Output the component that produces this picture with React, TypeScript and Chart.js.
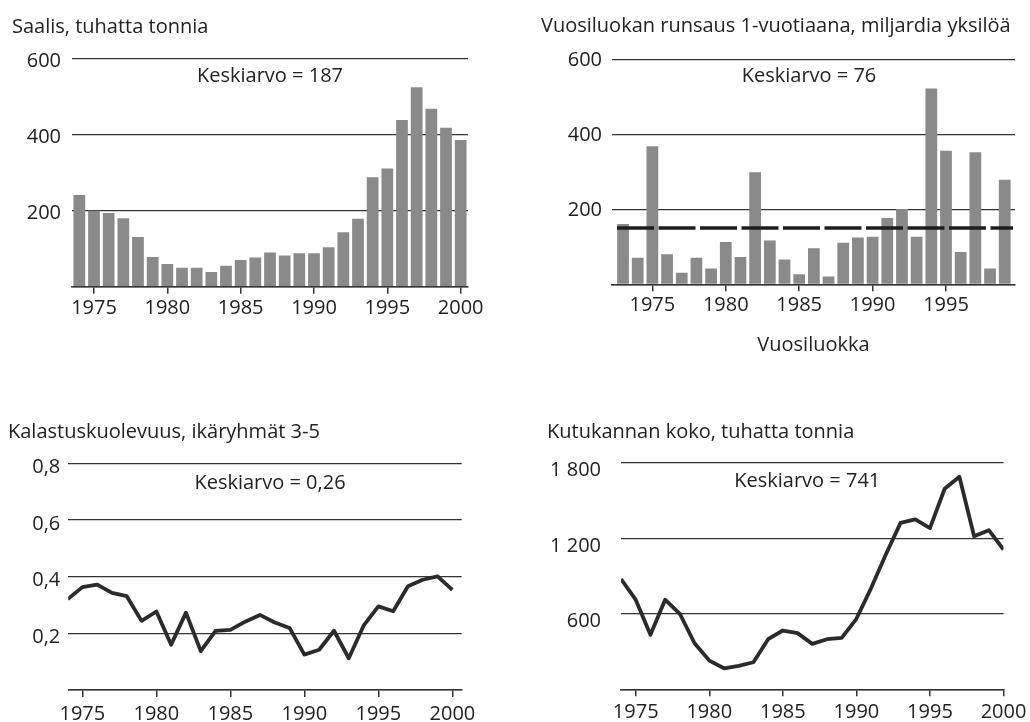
import React, { useEffect, useRef } from 'react';
import { Chart, registerables } from 'chart.js';

Chart.register(...registerables);

const FONT = "'Open Sans', 'Noto Sans', sans-serif";
const TEXT = '#222222';
const LINE = '#333333';
const BAR = '#8a8a8a';

// ---- Data ----
const catchYears = [1974, 1975, 1976, 1977, 1978, 1979, 1980, 1981, 1982, 1983, 1984, 1985, 1986, 1987, 1988, 1989, 1990, 1991, 1992, 1993, 1994, 1995, 1996, 1997, 1998, 1999, 2000];
const catchValues = [241, 200, 194, 180, 131, 78, 60, 50, 50, 39, 55, 70, 77, 90, 82, 88, 88, 104, 143, 179, 288, 311, 439, 525, 468, 418, 386];
const catchMean = 187;

const yearClassYears = [1973, 1974, 1975, 1976, 1977, 1978, 1979, 1980, 1981, 1982, 1983, 1984, 1985, 1986, 1987, 1988, 1989, 1990, 1991, 1992, 1993, 1994, 1995, 1996, 1997, 1998, 1999];
const yearClassValues = [161, 71, 368, 80, 31, 71, 42, 113, 73, 299, 117, 66, 27, 96, 21, 111, 125, 127, 177, 201, 127, 522, 356, 86, 352, 42, 279];
const yearClassMean = 76;
const yearClassReference = 150;

const mortalityYears = [1974, 1975, 1976, 1977, 1978, 1979, 1980, 1981, 1982, 1983, 1984, 1985, 1986, 1987, 1988, 1989, 1990, 1991, 1992, 1993, 1994, 1995, 1996, 1997, 1998, 1999, 2000];
const mortalityValues = [0.32, 0.363, 0.372, 0.343, 0.331, 0.244, 0.277, 0.16, 0.273, 0.137, 0.209, 0.212, 0.241, 0.265, 0.238, 0.219, 0.125, 0.142, 0.209, 0.112, 0.227, 0.295, 0.278, 0.366, 0.389, 0.401, 0.353];
const mortalityMean = 0.26;

const spawningYears = [1974, 1975, 1976, 1977, 1978, 1979, 1980, 1981, 1982, 1983, 1984, 1985, 1986, 1987, 1988, 1989, 1990, 1991, 1992, 1993, 1994, 1995, 1996, 1997, 1998, 1999, 2000];
const spawningValues = [876, 712, 433, 712, 600, 366, 228, 167, 186, 215, 398, 467, 446, 361, 398, 409, 560, 804, 1070, 1322, 1349, 1280, 1593, 1689, 1216, 1264, 1110];
const spawningMean = 741;

// ---- Tick values ----
const xTicksTo2000 = [1975, 1980, 1985, 1990, 1995, 2000];
const xTicksTo1995 = [1975, 1980, 1985, 1990, 1995];
const catchYTicks = [0, 200, 400, 600];
const yearClassYTicks = [0, 200, 400, 600];
const mortalityYTicks = [0, 0.2, 0.4, 0.6, 0.8];
const spawningYTicks = [0, 600, 1200, 1800];

// Finnish number formatting: comma decimals, space thousands
function fi(v: number, decimals = 0): string {
  const s = v.toFixed(decimals);
  const [intPart, frac] = s.split('.');
  const intS = intPart.replace(/\B(?=(\d{3})+(?!\d))/g, ' ');
  return frac ? `${intS},${frac}` : intS;
}

const panelTextPlugin = {
  id: 'panelText',
  afterDraw(chart: any, _args: any, opts: any) {
    const { ctx, chartArea } = chart;
    ctx.save();
    ctx.fillStyle = TEXT;
    ctx.font = `20px ${FONT}`;
    ctx.textBaseline = 'alphabetic';
    ctx.textAlign = 'left';
    ctx.fillText(opts.title, opts.titleX, opts.titleY);
    ctx.textAlign = 'center';
    ctx.fillText(opts.mean, (chartArea.left + chartArea.right) / 2 + opts.meanDx, chartArea.top + opts.meanDy);
    ctx.restore();
  },
};

const refLinePlugin = {
  id: 'refLine',
  afterDatasetsDraw(chart: any, _args: any, opts: any) {
    if (opts.value == null) return;
    const { ctx, chartArea } = chart;
    const y = chart.scales.y.getPixelForValue(opts.value);
    ctx.save();
    ctx.strokeStyle = '#1e1e1e';
    ctx.lineWidth = 3.5;
    ctx.setLineDash([37, 4.5]);
    ctx.beginPath();
    ctx.moveTo(chartArea.left + 5, y);
    ctx.lineTo(chartArea.right - 2, y);
    ctx.stroke();
    ctx.restore();
  },
};

type Panel = {
  type: 'bar' | 'line';
  years: number[];
  values: number[];
  padding: { left: number; right: number; top: number; bottom: number };
  yw: number;
  xh: number;
  xMin: number;
  xMax: number;
  xTicks: number[];
  xPad: number;
  xTitle?: string;
  yMax: number;
  yTicks: number[];
  yPad: number;
  yLabelOffset: number;
  yFormat: (v: number) => string;
  title: string;
  titleX: number;
  titleY: number;
  mean: string;
  meanDx: number;
  meanDy: number;
  refValue?: number;
};

function buildConfig(p: Panel): any {
  const dataset: any =
    p.type === 'bar'
      ? {
          data: p.years.map((x, i) => ({ x, y: p.values[i] })),
          backgroundColor: BAR,
          borderWidth: 0,
          barPercentage: 0.8,
          categoryPercentage: 1,
        }
      : {
          data: p.years.map((x, i) => ({ x, y: p.values[i] })),
          borderColor: '#2b2b2b',
          borderWidth: 3.8,
          pointRadius: 0,
          tension: 0,
          fill: false,
          borderJoinStyle: 'round',
        };
  const plugins: any[] = [panelTextPlugin];
  if (p.refValue != null) plugins.push(refLinePlugin);
  return {
    type: p.type,
    data: { datasets: [dataset] },
    plugins,
    options: {
      responsive: false,
      animation: false,
      events: [],
      layout: { padding: p.padding, autoPadding: false },
      plugins: {
        legend: { display: false },
        tooltip: { enabled: false },
        title: { display: false },
        panelText: {
          title: p.title,
          titleX: p.titleX,
          titleY: p.titleY,
          mean: p.mean,
          meanDx: p.meanDx,
          meanDy: p.meanDy,
        },
        refLine: { value: p.refValue },
      },
      scales: {
        x: {
          type: 'linear',
          min: p.xMin,
          max: p.xMax,
          offset: false,
          afterFit: (s: any) => {
            s.height = p.xh;
          },
          afterBuildTicks: (s: any) => {
            s.ticks = p.xTicks.map((v) => ({ value: v }));
          },
          grid: {
            display: true,
            offset: false,
            drawOnChartArea: false,
            drawTicks: true,
            tickLength: 7,
            color: LINE,
            lineWidth: 1.5,
          },
          border: { display: true, color: LINE, width: 1.5 },
          ticks: {
            padding: p.xPad,
            color: TEXT,
            font: { size: 20, family: FONT },
            maxRotation: 0,
            minRotation: 0,
            autoSkip: false,
            callback: (v: any) => String(v),
          },
          title: p.xTitle
            ? { display: true, text: p.xTitle, color: TEXT, font: { size: 20, family: FONT }, padding: 0 }
            : { display: false },
        },
        y: {
          type: 'linear',
          min: 0,
          max: p.yMax,
          afterFit: (s: any) => {
            s.width = p.yw;
          },
          afterBuildTicks: (s: any) => {
            s.ticks = p.yTicks.map((v) => ({ value: v }));
          },
          grid: { color: LINE, lineWidth: 1.2, drawTicks: false },
          border: { display: false },
          ticks: {
            padding: p.yPad,
            labelOffset: p.yLabelOffset,
            color: TEXT,
            font: { size: 20, family: FONT },
            callback: (v: any) => (Number(v) === 0 ? '' : p.yFormat(Number(v))),
          },
        },
      },
    },
  };
}

const panels: Panel[] = [
  {
    type: 'bar',
    years: catchYears,
    values: catchValues,
    padding: { left: 2, right: 562, top: 58.7, bottom: 375.3 },
    yw: 70,
    xh: 60,
    xMin: 1973.5,
    xMax: 2000.5,
    xTicks: xTicksTo2000,
    xPad: 2.4,
    yMax: 600,
    yTicks: catchYTicks,
    yPad: 11,
    yLabelOffset: 3,
    yFormat: (v) => fi(v),
    title: 'Saalis, tuhatta tonnia',
    titleX: 12,
    titleY: 32.5,
    mean: `Keskiarvo = ${fi(catchMean)}`,
    meanDx: 0,
    meanDy: 23,
  },
  {
    type: 'bar',
    years: yearClassYears,
    values: yearClassValues,
    padding: { left: 532, right: 15, top: 59.3, bottom: 365 },
    yw: 80,
    xh: 72.7,
    xMin: 1972.25,
    xMax: 1999.7,
    xTicks: xTicksTo1995,
    xPad: 1.9,
    xTitle: 'Vuosiluokka',
    yMax: 600,
    yTicks: yearClassYTicks,
    yPad: 10,
    yLabelOffset: 0.5,
    yFormat: (v) => fi(v),
    title: 'Vuosiluokan runsaus 1-vuotiaana, miljardia yksilöä',
    titleX: 541,
    titleY: 31.7,
    mean: `Keskiarvo = ${fi(yearClassMean)}`,
    meanDx: -4.5,
    meanDy: 23,
    refValue: yearClassReference,
  },
  {
    type: 'line',
    years: mortalityYears,
    values: mortalityValues,
    padding: { left: 0, right: 568.3, top: 463.3, bottom: 0 },
    yw: 68.3,
    xh: 32,
    xMin: 1974.05,
    xMax: 2000.63,
    xTicks: xTicksTo2000,
    xPad: 5.4,
    yMax: 0.8,
    yTicks: mortalityYTicks,
    yPad: 8,
    yLabelOffset: 4,
    yFormat: (v) => fi(v, 1),
    title: 'Kalastuskuolevuus, ikäryhmät 3-5',
    titleX: 8,
    titleY: 437.5,
    mean: `Keskiarvo = ${fi(mortalityMean, 2)}`,
    meanDx: 5,
    meanDy: 26,
  },
  {
    type: 'line',
    years: spawningYears,
    values: spawningValues,
    padding: { left: 521, right: 25, top: 462.7, bottom: 0.7 },
    yw: 100,
    xh: 32,
    xMin: 1974,
    xMax: 2000,
    xTicks: xTicksTo2000,
    xPad: 3.6,
    yMax: 1800,
    yTicks: spawningYTicks,
    yPad: 20,
    yLabelOffset: 8,
    yFormat: (v) => fi(v),
    title: 'Kutukannan koko, tuhatta tonnia',
    titleX: 547,
    titleY: 437.5,
    mean: `Keskiarvo = ${fi(spawningMean)}`,
    meanDx: -5,
    meanDy: 24.6,
  },
];

function PanelCanvas({ panel }: { panel: Panel }) {
  const ref = useRef<HTMLCanvasElement | null>(null);
  useEffect(() => {
    if (!ref.current) return;
    const chart = new Chart(ref.current, buildConfig(panel));
    return () => chart.destroy();
  }, [panel]);
  return (
    <canvas
      ref={ref}
      width={1030}
      height={722}
      style={{ position: 'absolute', left: 0, top: 0, width: 1030, height: 722 }}
    />
  );
}

export default function App() {
  return (
    <div style={{ position: 'absolute', left: 0, top: 0, width: 1030, height: 722, background: '#ffffff', overflow: 'hidden' }}>
      {panels.map((p, i) => (
        <PanelCanvas key={i} panel={p} />
      ))}
    </div>
  );
}
